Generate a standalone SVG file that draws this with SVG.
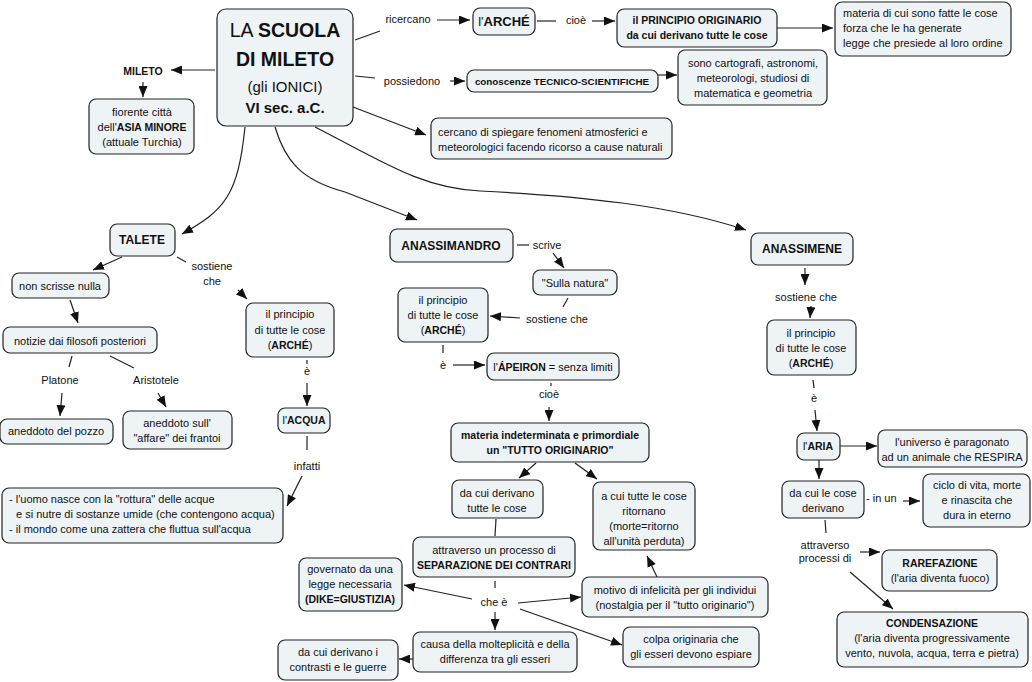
<svg xmlns="http://www.w3.org/2000/svg" width="1032" height="682" viewBox="0 0 1032 682">
<defs>
<marker id="ah" markerUnits="userSpaceOnUse" markerWidth="11" markerHeight="9" refX="11" refY="4.5" orient="auto"><path d="M0,0 L11,4.5 L0,9 z" fill="#111"/></marker>
<style>
.n rect{fill:#eef3f6;stroke:#222;stroke-width:1.2}
text{font-family:"Liberation Sans",Arial,sans-serif;font-size:11px;fill:#111}
.c{text-anchor:middle}
.b{font-weight:bold;font-size:10.5px}
.h{font-weight:bold;font-size:12px}
#conn path,#conn line{fill:none;stroke:#222;stroke-width:1.2}
.a{marker-end:url(#ah)}
</style>
</defs>
<rect width="1032" height="682" fill="#fff"/>
<g id="conn">
<line x1="215" y1="70" x2="171" y2="70" class="a"/>
<line x1="143" y1="82" x2="143" y2="97" class="a"/>
<line x1="355" y1="40" x2="380" y2="31"/>
<line x1="437" y1="20" x2="470" y2="20" class="a"/>
<line x1="537" y1="21" x2="556" y2="21"/>
<line x1="592" y1="21" x2="615" y2="21" class="a"/>
<line x1="777" y1="28" x2="833" y2="28" class="a"/>
<line x1="355" y1="76" x2="375" y2="78"/>
<line x1="450" y1="81" x2="465" y2="81" class="a"/>
<line x1="658" y1="75" x2="677" y2="75" class="a"/>
<line x1="353" y1="107" x2="426" y2="135" class="a"/>
<path d="M245,127 C238,195 225,210 182,234" class="a"/>
<path d="M275,127 C285,160 300,180 345,192 L417,220" class="a"/>
<path d="M315,127 C380,160 420,188 480,191 C580,196 670,205 746,230" class="a"/>
<line x1="122" y1="257" x2="93" y2="270" class="a"/>
<line x1="70" y1="300" x2="78" y2="323" class="a"/>
<line x1="72" y1="356" x2="69" y2="367"/>
<line x1="62" y1="393" x2="60" y2="416" class="a"/>
<line x1="110" y1="356" x2="134" y2="368"/>
<line x1="158" y1="393" x2="166" y2="407" class="a"/>
<line x1="177" y1="257" x2="186" y2="262"/>
<line x1="238" y1="290" x2="247" y2="299" class="a"/>
<line x1="307" y1="360" x2="307" y2="364"/>
<line x1="307" y1="383" x2="307" y2="406" class="a"/>
<line x1="307" y1="436" x2="307" y2="450"/>
<line x1="302" y1="476" x2="287" y2="506" class="a"/>
<line x1="517" y1="245" x2="529" y2="245"/>
<line x1="553" y1="253" x2="564" y2="268" class="a"/>
<line x1="568" y1="298" x2="563" y2="307"/>
<line x1="520" y1="318" x2="490" y2="316" class="a"/>
<line x1="443" y1="345" x2="443" y2="353"/>
<line x1="453" y1="365" x2="485" y2="365" class="a"/>
<line x1="551" y1="383" x2="551" y2="386"/>
<line x1="549" y1="407" x2="549" y2="421" class="a"/>
<line x1="536" y1="463" x2="519" y2="478" class="a"/>
<line x1="575" y1="463" x2="597" y2="479" class="a"/>
<line x1="496" y1="519" x2="495" y2="536"/>
<line x1="495" y1="581" x2="495" y2="588"/>
<line x1="472" y1="599" x2="404" y2="585" class="a"/>
<line x1="518" y1="603" x2="581" y2="597" class="a"/>
<line x1="657" y1="577" x2="647" y2="556" class="a"/>
<line x1="495" y1="612" x2="495" y2="630" class="a"/>
<line x1="520" y1="609" x2="622" y2="645" class="a"/>
<line x1="413" y1="659" x2="399" y2="659" class="a"/>
<line x1="805" y1="268" x2="805" y2="285" class="a"/>
<line x1="811" y1="306" x2="810" y2="318" class="a"/>
<line x1="813" y1="380" x2="814" y2="388"/>
<line x1="815" y1="410" x2="817" y2="431" class="a"/>
<line x1="840" y1="446" x2="877" y2="446" class="a"/>
<line x1="819" y1="460" x2="819" y2="479" class="a"/>
<line x1="903" y1="501" x2="920" y2="501" class="a"/>
<line x1="825" y1="520" x2="826" y2="533"/>
<line x1="860" y1="552" x2="880" y2="552" class="a"/>
<line x1="850" y1="572" x2="893" y2="609" class="a"/>
</g>
<g id="labels">
<text x="143" y="75" class="c" style="font-weight:bold;font-size:10.5px">MILETO</text>
<text x="408" y="23" class="c">ricercano</text>
<text x="576" y="24" class="c">cioè</text>
<text x="412" y="85" class="c">possiedono</text>
<text x="60" y="384" class="c">Platone</text>
<text x="156" y="384" class="c">Aristotele</text>
<text x="212" y="270" class="c">sostiene</text>
<text x="212" y="285" class="c">che</text>
<text x="307" y="375" class="c">è</text>
<text x="307" y="470" class="c">infatti</text>
<text x="547" y="249" class="c">scrive</text>
<text x="557" y="323" class="c">sostiene che</text>
<text x="443" y="369" class="c">è</text>
<text x="549" y="398" class="c">cioè</text>
<text x="494" y="606" class="c">che è</text>
<text x="806" y="301" class="c">sostiene che</text>
<text x="814" y="402" class="c">è</text>
<text x="866" y="502">-  in un</text>
<text x="825" y="549" class="c">attraverso</text>
<text x="825" y="562" class="c">processi di</text>
</g>
<g id="main" class="n">
<rect x="217" y="9" width="136" height="117" rx="9"/>
<text x="285" y="37" class="c" style="font-size:19.5px">LA <tspan font-weight="bold">SCUOLA</tspan></text>
<text x="285" y="66" class="c" style="font-size:19.5px;font-weight:bold">DI MILETO</text>
<text x="285" y="92" class="c" style="font-size:15px">(gli IONICI)</text>
<text x="285" y="113" class="c" style="font-size:15px;font-weight:bold">VI sec. a.C.</text>
</g>
<g id="fiorente" class="n">
<rect x="89" y="99" width="105" height="55" rx="7"/>
<text x="142" y="116" class="c">fiorente città</text>
<text x="142" y="131" class="c">dell'<tspan class="b">ASIA MINORE</tspan></text>
<text x="142" y="146" class="c">(attuale Turchia)</text>
</g>
<g id="arche" class="n">
<rect x="473" y="8" width="62" height="27" rx="7"/>
<text x="504" y="26" class="c" style="font-size:13px">l'<tspan font-weight="bold">ARCHÉ</tspan></text>
</g>
<g id="principio" class="n">
<rect x="617" y="9" width="160" height="38" rx="7"/>
<text x="697" y="24" class="c b">il PRINCIPIO ORIGINARIO</text>
<text x="697" y="39" class="c b">da cui derivano tutte le cose</text>
</g>
<g id="materia" class="n">
<rect x="835" y="2" width="176" height="54" rx="7"/>
<text x="843" y="17">materia di cui sono fatte le cose</text>
<text x="843" y="32">forza che le ha generate</text>
<text x="843" y="47">legge che presiede al loro ordine</text>
</g>
<g id="conoscenze" class="n">
<rect x="467" y="70" width="191" height="22" rx="7"/>
<text x="562" y="85" class="c b" style="font-size:9.8px">conoscenze TECNICO-SCIENTIFICHE</text>
</g>
<g id="cartografi" class="n">
<rect x="678" y="50" width="149" height="55" rx="7"/>
<text x="753" y="67" class="c">sono cartografi, astronomi,</text>
<text x="753" y="82" class="c">meteorologi, studiosi di</text>
<text x="753" y="97" class="c">matematica e geometria</text>
</g>
<g id="cercano" class="n">
<rect x="431" y="118" width="241" height="41" rx="7"/>
<text x="438" y="136">cercano di spiegare fenomeni atmosferici e</text>
<text x="438" y="151">meteorologici facendo ricorso a cause naturali</text>
</g>
<g id="talete" class="n">
<rect x="110" y="224" width="65" height="32" rx="7"/>
<text x="142" y="244" class="c h">TALETE</text>
</g>
<g id="nonscrisse" class="n">
<rect x="12" y="273" width="97" height="25" rx="7"/>
<text x="60" y="290" class="c">non scrisse nulla</text>
</g>
<g id="notizie" class="n">
<rect x="3" y="327" width="154" height="26" rx="7"/>
<text x="80" y="345" class="c">notizie dai filosofi posteriori</text>
</g>
<g id="pozzo" class="n">
<rect x="0" y="419" width="113" height="25" rx="7"/>
<text x="56" y="435" class="c">aneddoto del pozzo</text>
</g>
<g id="frantoi" class="n">
<rect x="123" y="411" width="109" height="38" rx="7"/>
<text x="177" y="427" class="c">aneddoto sull'</text>
<text x="177" y="442" class="c">"affare" dei frantoi</text>
</g>
<g id="archeTalete" class="n">
<rect x="246" y="303" width="88" height="54" rx="7"/>
<text x="290" y="318" class="c">il principio</text>
<text x="290" y="334" class="c">di tutte le cose</text>
<text x="290" y="349" class="c">(<tspan class="b">ARCHÉ</tspan>)</text>
</g>
<g id="acqua" class="n">
<rect x="278" y="408" width="52" height="25" rx="7"/>
<text x="304" y="424" class="c">l'<tspan class="b">ACQUA</tspan></text>
</g>
<g id="uomo" class="n">
<rect x="2" y="488" width="281" height="55" rx="7"/>
<text x="9" y="503">- l'uomo nasce con la "rottura" delle acque</text>
<text x="16" y="518">e si nutre di sostanze umide (che contengono acqua)</text>
<text x="9" y="533">- il mondo come una zattera che fluttua sull'acqua</text>
</g>
<g id="anassimandro" class="n">
<rect x="390" y="229" width="123" height="33" rx="7"/>
<text x="451" y="250" class="c h">ANASSIMANDRO</text>
</g>
<g id="natura" class="n">
<rect x="533" y="270" width="84" height="25" rx="7"/>
<text x="575" y="287" class="c">"Sulla natura"</text>
</g>
<g id="archeAnassimandro" class="n">
<rect x="398" y="288" width="90" height="54" rx="7"/>
<text x="443" y="304" class="c">il principio</text>
<text x="443" y="319" class="c">di tutte le cose</text>
<text x="443" y="334" class="c">(<tspan class="b">ARCHÉ</tspan>)</text>
</g>
<g id="apeiron" class="n">
<rect x="487" y="353" width="132" height="27" rx="7"/>
<text x="553" y="371" class="c">l'<tspan class="b">ÁPEIRON</tspan> = senza limiti</text>
</g>
<g id="indeterminata" class="n">
<rect x="451" y="423" width="198" height="39" rx="7"/>
<text x="550" y="439" class="c b">materia indeterminata e primordiale</text>
<text x="550" y="454" class="c b">un "TUTTO ORIGINARIO"</text>
</g>
<g id="derivano" class="n">
<rect x="452" y="480" width="91" height="38" rx="7"/>
<text x="497" y="497" class="c">da cui derivano</text>
<text x="497" y="512" class="c">tutte le cose</text>
</g>
<g id="ritornano" class="n">
<rect x="593" y="482" width="102" height="68" rx="7"/>
<text x="644" y="500" class="c">a cui tutte le cose</text>
<text x="644" y="515" class="c">ritornano</text>
<text x="644" y="530" class="c">(morte=ritorno</text>
<text x="644" y="545" class="c">all'unità perduta)</text>
</g>
<g id="separazione" class="n">
<rect x="413" y="537" width="162" height="40" rx="7"/>
<text x="494" y="554" class="c">attraverso un processo di</text>
<text x="494" y="569" class="c b">SEPARAZIONE DEI CONTRARI</text>
</g>
<g id="governato" class="n">
<rect x="299" y="558" width="103" height="53" rx="7"/>
<text x="350" y="573" class="c">governato da una</text>
<text x="350" y="588" class="c">legge necessaria</text>
<text x="350" y="603" class="c b">(DIKE=GIUSTIZIA)</text>
</g>
<g id="motivo" class="n">
<rect x="582" y="577" width="186" height="40" rx="7"/>
<text x="675" y="594" class="c">motivo di infelicità per gli individui</text>
<text x="675" y="609" class="c">(nostalgia per il "tutto originario")</text>
</g>
<g id="causa" class="n">
<rect x="413" y="632" width="164" height="40" rx="7"/>
<text x="495" y="648" class="c">causa della molteplicità e della</text>
<text x="495" y="663" class="c">differenza tra gli esseri</text>
</g>
<g id="colpa" class="n">
<rect x="623" y="627" width="136" height="40" rx="7"/>
<text x="691" y="643" class="c">colpa originaria che</text>
<text x="691" y="658" class="c">gli esseri devono espiare</text>
</g>
<g id="contrasti" class="n">
<rect x="278" y="640" width="120" height="40" rx="7"/>
<text x="338" y="656" class="c">da cui derivano i</text>
<text x="338" y="671" class="c">contrasti e le guerre</text>
</g>
<g id="anassimene" class="n">
<rect x="751" y="233" width="102" height="32" rx="7"/>
<text x="802" y="253" class="c h">ANASSIMENE</text>
</g>
<g id="archeAnassimene" class="n">
<rect x="767" y="320" width="89" height="55" rx="7"/>
<text x="811" y="337" class="c">il principio</text>
<text x="811" y="352" class="c">di tutte le cose</text>
<text x="811" y="367" class="c">(<tspan class="b">ARCHÉ</tspan>)</text>
</g>
<g id="aria" class="n">
<rect x="797" y="433" width="43" height="27" rx="7"/>
<text x="818" y="450" class="c">l'<tspan class="b">ARIA</tspan></text>
</g>
<g id="universo" class="n">
<rect x="878" y="430" width="149" height="37" rx="7"/>
<text x="952" y="446" class="c">l'universo è paragonato</text>
<text x="952" y="461" class="c">ad un animale che RESPIRA</text>
</g>
<g id="cose" class="n">
<rect x="782" y="481" width="82" height="37" rx="7"/>
<text x="823" y="497" class="c">da cui le cose</text>
<text x="823" y="512" class="c">derivano</text>
</g>
<g id="ciclo" class="n">
<rect x="923" y="474" width="107" height="53" rx="7"/>
<text x="977" y="489" class="c">ciclo di vita, morte</text>
<text x="977" y="504" class="c">e rinascita che</text>
<text x="977" y="519" class="c">dura in eterno</text>
</g>
<g id="rarefazione" class="n">
<rect x="882" y="550" width="115" height="41" rx="7"/>
<text x="940" y="567" class="c b">RAREFAZIONE</text>
<text x="940" y="582" class="c">(l'aria diventa fuoco)</text>
</g>
<g id="condensazione" class="n">
<rect x="837" y="612" width="191" height="55" rx="7"/>
<text x="932" y="627" class="c b">CONDENSAZIONE</text>
<text x="932" y="642" class="c">(l'aria diventa progressivamente</text>
<text x="932" y="657" class="c">vento, nuvola, acqua, terra e pietra)</text>
</g>
</svg>
